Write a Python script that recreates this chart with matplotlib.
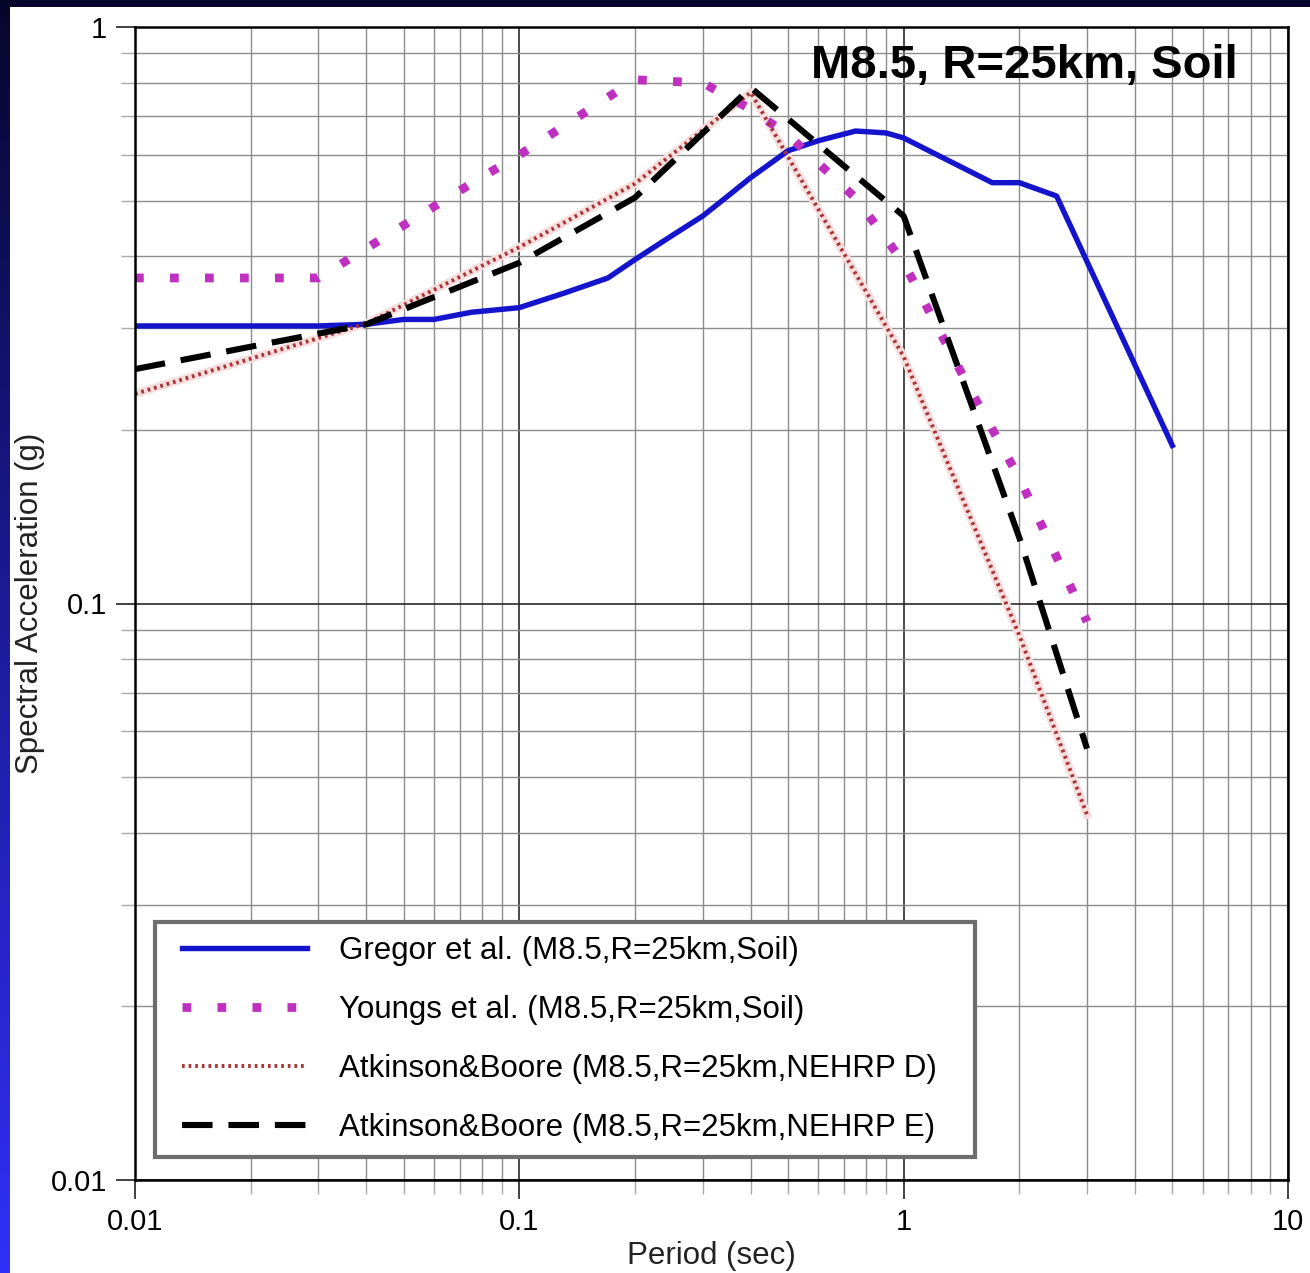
import numpy as np
import matplotlib.pyplot as plt
from matplotlib.colors import LinearSegmentedColormap
from matplotlib.patches import Rectangle
from matplotlib.lines import Line2D
from matplotlib.legend_handler import HandlerLine2D
from matplotlib.ticker import FixedLocator, LogLocator, NullFormatter

plt.rcParams['font.family'] = ['Liberation Sans', 'DejaVu Sans']

# spectral acceleration (g) vs period (sec)
gregor_T = [0.01, 0.02, 0.03, 0.04, 0.05, 0.06, 0.075, 0.1, 0.13, 0.17, 0.2,
            0.25, 0.3, 0.35, 0.4, 0.5, 0.6, 0.75, 0.9, 1.0, 1.7, 2.0, 2.5, 5.0]
gregor_sa = [0.303, 0.303, 0.303, 0.305, 0.311, 0.311, 0.320, 0.326, 0.345, 0.367, 0.395,
             0.435, 0.47, 0.51, 0.548, 0.61, 0.635, 0.66, 0.655, 0.642, 0.537, 0.537, 0.509, 0.188]

youngs_T = [0.01, 0.03, 0.075, 0.1, 0.2, 0.3, 0.4, 0.5, 0.75, 1.0, 1.5, 2.0, 3.0]
youngs_sa = [0.367, 0.367, 0.535, 0.60, 0.81, 0.80, 0.72, 0.65, 0.505, 0.39, 0.233, 0.165, 0.093]

ab_T = [0.01, 0.04, 0.1, 0.2, 0.4, 1.0, 2.0, 3.0]
ab_d_sa = [0.231, 0.306, 0.415, 0.535, 0.77, 0.268, 0.088, 0.043]
ab_e_sa = [0.255, 0.305, 0.39, 0.506, 0.785, 0.47, 0.13, 0.056]

labels = ["Gregor et al. (M8.5,R=25km,Soil)",
          "Youngs et al. (M8.5,R=25km,Soil)",
          "Atkinson&Boore (M8.5,R=25km,NEHRP D)",
          "Atkinson&Boore (M8.5,R=25km,NEHRP E)"]

x_ticks = [0.01, 0.1, 1, 10]
x_ticklabels = ['0.01', '0.1', '1', '10']
y_ticks = [0.01, 0.1, 1]
y_ticklabels = ['0.01', '0.1', '1']

W, H = 1310, 1273
fig = plt.figure(figsize=(W / 100, H / 100), dpi=100)
fig.patch.set_facecolor('#05052a')

# slide background: dark navy -> blue gradient with white panel
bg = fig.add_axes([0, 0, 1, 1], zorder=-10)
cmap = LinearSegmentedColormap.from_list('slide', ['#06062c', '#1c1c9c', '#3030f8'])
bg.imshow(np.linspace(0, 1, 256).reshape(-1, 1), cmap=cmap, aspect='auto',
          extent=(0, 1, 0, 1), origin='upper')
bg.add_patch(Rectangle((10 / W, 0), 1, 1 - 7 / H, facecolor='white', edgecolor='none'))
bg.set_xlim(0, 1)
bg.set_ylim(0, 1)
bg.axis('off')

ax = fig.add_axes([135 / W, 1 - 1180 / H, 1153 / W, 1153 / H])
ax.set_xscale('log')
ax.set_yscale('log')

ax.plot(gregor_T, gregor_sa, color='#1414cc', lw=3.9, solid_joinstyle='round',
        label=labels[0])
ax.plot(youngs_T, youngs_sa, color='#c030c0', lw=6.3, linestyle=(0, (1, 3)),
        dash_capstyle='butt', label=labels[1])
# faint pink halo under the fine dotted line
ax.plot(ab_T, ab_d_sa, color='#f7dede', lw=6, zorder=1.9)
ax.plot(ab_T, ab_d_sa, color='#a83434', lw=2.8, linestyle=(0, (0.7, 1.0)),
        label=labels[2])
ax.plot(ab_T, ab_e_sa, color='black', lw=4.4, linestyle=(0, (5, 2.6)),
        label=labels[3])

ax.set_xlim(0.01, 10)
ax.set_ylim(0.01, 1)

ax.xaxis.set_major_locator(FixedLocator(x_ticks))
ax.set_xticklabels(x_ticklabels)
ax.yaxis.set_major_locator(FixedLocator(y_ticks))
ax.set_yticklabels(y_ticklabels)
for axis in (ax.xaxis, ax.yaxis):
    axis.set_minor_locator(LogLocator(base=10, subs=np.arange(2, 10), numticks=20))
    axis.set_minor_formatter(NullFormatter())

ax.set_axisbelow(True)
ax.grid(which='major', color='#2a2a2a', lw=1.2)
ax.grid(which='minor', color='#8c8c8c', lw=1.0)
ax.tick_params(which='major', direction='out', length=14, width=1.3,
               color='#333333', labelsize=21, pad=6)
ax.tick_params(which='minor', direction='out', length=10, width=1.0, color='#aaaaaa')
for sp in ax.spines.values():
    sp.set_linewidth(1.8)

ax.set_xlabel('Period (sec)', fontsize=22.5, labelpad=4, color='#222222')
ax.set_ylabel('Spectral Acceleration (g)', fontsize=22.5, labelpad=4, color='#222222')

ax.text(0.9566, 0.9665, 'M8.5, R=25km, Soil', transform=ax.transAxes,
        ha='right', va='center', fontsize=34, fontweight='bold')

leg = ax.legend(loc='lower left', bbox_to_anchor=(20 / 1153, 23 / 1153, 820 / 1153, 0.2),
                mode='expand', borderaxespad=0, fontsize=22.5, handlelength=4.42,
                handletextpad=1.02, labelspacing=0.93, borderpad=0.45,
                fancybox=False, framealpha=1, edgecolor='#6e6e6e',
                handler_map={Line2D: HandlerLine2D(xpad=0.42)})
leg.get_frame().set_linewidth(3)

plt.savefig('out.png', dpi=100)
